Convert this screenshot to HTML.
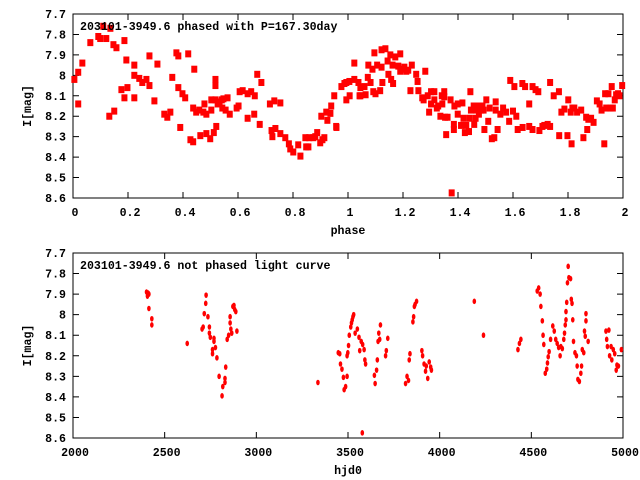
<!DOCTYPE html>
<html><head><meta charset="utf-8">
<style>
html,body{margin:0;padding:0;background:#fff;}
svg{display:block;font-family:"Liberation Mono","DejaVu Sans Mono",monospace;}
text{font-size:11.6px;fill:#000;font-weight:bold;}
</style></head>
<body>
<svg id="chart" width="640" height="480" viewBox="0 0 640 480" xmlns="http://www.w3.org/2000/svg">
<g id="top"></g>
<g id="bot"></g>
</svg>
<script>
const phaseTicks=[0,0.2,0.4,0.6,0.8,1,1.2,1.4,1.6,1.8,2];
const magTicks=[7.7,7.8,7.9,8,8.1,8.2,8.3,8.4,8.5,8.6];
const hjdTicks=[2000,2500,3000,3500,4000,4500,5000];
const phaseX=[0.005,0.019,0.019,0.034,0.063,0.092,0.099,0.11,0.121,0.136,0.132,0.147,0.158,0.150,0.176,0.187,0.187,0.194,0.198,0.223,0.223,0.223,0.241,0.252,0.267,0.278,0.278,0.296,0.307,0.332,0.343,0.354,0.361,0.376,0.383,0.383,0.39,0.398,0.408,0.419,0.427,0.437,0.441,0.437,0.448,0.459,0.463,0.478,0.474,0.485,0.485,0.499,0.503,0.503,0.512,0.518,0.518,0.518,0.521,0.526,0.533,0.541,0.547,0.543,0.555,0.562,0.570,0.595,0.602,0.606,0.617,0.635,0.648,0.661,0.635,0.659,0.670,0.679,0.685,0.716,0.732,0.722,0.725,0.736,0.754,0.754,0.772,0.785,0.79,0.801,0.819,0.827,0.845,0.848,0.856,0.859,0.874,0.881,0.888,0.899,0.907,0.914,0.903,0.921,0.925,0.936,0.939,0.95,0.958,0.976,0.987,0.994,1.005,1.023,1.023,0.994,1.006,1.038,1.042,
0.957,1.045,1.06,1.045,1.064,1.074,1.072,1.082,1.089,1.092,1.096,1.1,1.106,1.117,1.122,1.122,1.125,1.136,1.144,1.147,1.154,1.157,1.164,1.162,1.172,1.183,1.19,1.19,1.198,1.205,1.212,1.219,1.227,1.232,1.248,1.253,1.256,1.281,1.27,1.275,1.29,1.295,1.302,1.302,1.314,1.314,1.323,1.328,1.336,1.341,1.343,1.35,1.35,1.353,1.362,1.357,1.373,1.377,1.385,1.385,1.387,1.399,1.399,1.411,1.416,1.42,1.425,1.43,1.44,1.442,1.445,1.447,1.457,1.459,1.464,1.466,1.472,1.476,1.484,1.489,1.493,1.496,1.503,1.51,1.515,1.523,1.532,1.537,1.537,1.544,1.554,1.564,1.575,1.586,1.59,1.6,1.605,1.612,1.617,1.634,1.635,1.644,1.659,1.659,1.671,1.671,1.682,1.692,1.696,1.707,1.714,1.726,1.735,1.735,1.748,1.767,1.768,1.776,1.787,1.798,1.801,1.81,1.813,1.816,1.823,1.833,1.848,1.856,1.866,1.87,1.874,1.884,1.893,1.905,1.915,1.922,1.932,1.935,1.939,1.947,1.954,1.959,1.963,1.97,1.975,1.982,1.987,1.997];
const phaseMag=[8.02,7.985,8.14,7.94,7.84,7.81,7.82,7.76,7.82,7.77,8.2,7.85,7.865,8.175,8.07,7.83,8.11,7.925,8.06,7.95,8.0,8.11,8.015,8.035,8.02,7.905,8.05,8.125,7.945,8.19,8.205,8.18,8.01,7.89,7.905,8.06,8.255,8.09,8.11,7.895,8.315,8.325,7.97,8.16,8.18,8.17,8.295,8.14,8.18,8.19,8.285,8.31,8.17,8.12,8.28,8.12,8.05,8.02,8.25,8.14,8.13,8.12,8.115,8.16,8.17,8.11,8.19,8.16,8.15,8.08,8.075,8.09,8.08,8.1,8.21,8.19,7.995,8.24,8.035,8.14,8.125,8.27,8.3,8.26,8.135,8.285,8.305,8.335,8.36,8.375,8.34,8.395,8.305,8.35,8.35,8.305,8.305,8.3,8.28,8.33,8.315,8.305,8.2,8.18,8.22,8.186,8.15,8.1,8.255,8.055,8.04,8.035,8.03,8.02,7.94,8.12,8.1,8.035,8.1,
8.25,8.06,8.055,8.1,8.095,7.95,8.01,8.035,7.97,8.08,7.89,8.09,7.95,8.075,7.96,7.875,8.035,7.87,7.93,7.995,7.9,8.02,8.04,7.95,7.91,7.955,7.895,7.98,7.97,7.96,7.98,7.975,8.075,7.95,7.995,8.03,8.075,7.98,8.11,8.12,8.1,8.18,8.08,8.14,8.08,8.12,8.16,8.15,8.2,8.1,8.14,8.08,8.105,8.205,8.205,8.29,8.12,8.575,8.24,8.265,8.15,8.14,8.19,8.245,8.135,8.21,8.28,8.245,8.275,8.21,8.08,8.17,8.15,8.24,8.21,8.17,8.15,8.19,8.17,8.15,8.17,8.265,8.12,8.225,8.16,8.31,8.305,8.13,8.17,8.265,8.19,8.16,8.18,8.225,8.025,8.175,8.055,8.2,8.265,8.04,8.255,8.055,8.14,8.25,8.055,8.265,8.07,8.08,8.27,8.25,8.245,8.24,8.25,8.035,8.1,8.08,8.295,8.18,8.165,8.295,8.12,8.18,8.335,8.16,8.16,8.18,8.17,8.305,8.205,8.265,8.215,8.21,8.23,8.125,8.14,8.17,8.335,8.09,8.16,8.09,8.16,8.055,8.16,8.12,8.095,8.09,8.1,8.05];
const hjd=[2401,2410,2414,2406,2414,2430,2430,2623,2704,2710,2716,2724,2726,2736,2744,2744,2749,2761,2761,2769,2769,2777,2785,2797,2813,2817,2829,2829,2833,2841,2849,2857,2857,2861,2866,2872,2878,2882,2888,2894,3336,3447,3455,3459,3467,3475,3479,3487,3495,3495,3499,3503,3507,3515,3519,3523,3527,3531,3539,3551,3560,3564,3572,3580,3588,3592,3596,3578,3644,3648,3656,3660,3664,3668,3673,3677,3705,3709,3717,3814,3822,3830,3834,3838,3854,3858,3862,3866,3874,3903,3907,3915,3923,3927,3935,3943,3951,3955,4189,4239,4427,4435,4443,4532,4540,4548,4552,4560,4564,4568,4576,4584,4588,4592,4597,4605,4617,4625,4633,4641,4649,4657,4661,4669,4677,4681,4685,4689,4689,4693,4697,4701,4705,4714,4718,4722,4726,4730,4738,4746,4750,4754,4762,4770,4774,4778,4786,4790,4794,4798,4798,4810,4907,4911,4915,4923,4927,4935,4939,4947,4955,4963,4967,4975,4991];
const hjdMag=[7.89,7.895,7.90,7.91,7.97,8.02,8.05,8.14,8.07,8.06,7.995,7.945,7.905,8.01,8.06,8.09,8.11,8.19,8.17,8.13,8.115,8.16,8.21,8.30,8.395,8.35,8.31,8.33,8.255,8.12,8.10,8.01,8.04,8.07,8.09,7.96,7.955,7.975,7.985,8.08,8.33,8.185,8.19,8.24,8.265,8.305,8.365,8.35,8.30,8.20,8.185,8.15,8.10,8.06,8.04,8.025,8.01,8.0,8.09,8.07,8.11,8.175,8.13,8.145,8.17,8.22,8.24,8.575,8.295,8.335,8.27,8.22,8.13,8.09,8.12,8.05,8.20,8.175,8.115,8.335,8.30,8.32,8.22,8.19,8.035,8.01,7.96,7.95,7.935,8.175,8.20,8.24,8.275,8.25,8.31,8.23,8.255,8.27,7.935,8.10,8.17,8.14,8.12,7.885,7.87,7.90,7.96,8.03,8.10,8.145,8.285,8.265,8.235,8.205,8.18,8.12,8.055,8.08,8.12,8.14,8.16,8.20,8.155,8.165,8.12,8.09,8.05,8.025,7.985,7.94,7.845,7.765,7.82,7.825,7.925,7.945,8.025,8.13,8.185,8.20,8.25,8.315,8.325,8.285,8.25,8.17,8.185,8.08,8.105,8.03,7.995,8.13,8.08,8.12,8.155,8.075,8.20,8.155,8.22,8.17,8.19,8.27,8.245,8.25,8.17];

const NS='http://www.w3.org/2000/svg';
function mk(parent,tag,attrs){const e=document.createElementNS(NS,tag);for(const k in attrs)e.setAttribute(k,attrs[k]);parent.appendChild(e);return e;}
const L=73,R=623;
function panel(g,top,bot,xmin,xmax,xticks,xfmt,xs,ys,title,xlabel,marker,pname){
  const xS=v=>L+(v-xmin)/(xmax-xmin)*(R-L);
  const yS=v=>top+(v-7.7)/0.9*(bot-top);
  const fr=mk(g,'rect',{x:L,y:top,width:R-L,height:bot-top,fill:'none',stroke:'#000','stroke-width':1});
  
  
  xticks.forEach(t=>{const x=xS(t);
    const tk=mk(g,'path',{d:`M${x},${bot}v-6M${x},${top}v6`,stroke:'#000'});
    
    
    const lb=mk(g,'text',{x:x+2,y:bot+18,'text-anchor':'middle'});lb.textContent=xfmt(t);
    
    
  });
  magTicks.forEach(t=>{const y=yS(t);
    const tk=mk(g,'path',{d:`M${L},${y}h6M${R},${y}h-6`,stroke:'#000'});
    
    
    const lb=mk(g,'text',{x:66,y:y+4,'text-anchor':'end'});lb.textContent=String(t);
    
    
  });
  for(let i=0;i<xs.length;i++){
    const x=xS(xs[i]),y=yS(ys[i]);
    let m;
    if(marker==='sq') m=mk(g,'rect',{x:x-3,y:y-3.5,width:6,height:7,fill:'#f00'});
    else m=mk(g,'ellipse',{cx:x,cy:y,rx:1.8,ry:2.8,fill:'#f00'});
    
    
  }
  const tt=mk(g,'text',{x:80,y:top+16});tt.textContent=title;
  
  
  const xl=mk(g,'text',{x:(L+R)/2,y:bot+36,'text-anchor':'middle'});xl.textContent=xlabel;
  
  
  const cy=(top+bot)/2;
  const yl=mk(g,'text',{x:31,y:cy,'text-anchor':'middle',transform:`rotate(-90 31 ${cy})`});yl.textContent='I[mag]';
  
  
}
panel(document.getElementById('top'),14,198,0,2,phaseTicks,t=>String(t),phaseX,phaseMag,'203101-3949.6 phased with P=167.30day','phase','sq','phased');
panel(document.getElementById('bot'),253,438,2000,5000,hjdTicks,t=>String(t),hjd,hjdMag,'203101-3949.6 not phased light curve','hjd0','el','unphased');
</script>
</body></html>
